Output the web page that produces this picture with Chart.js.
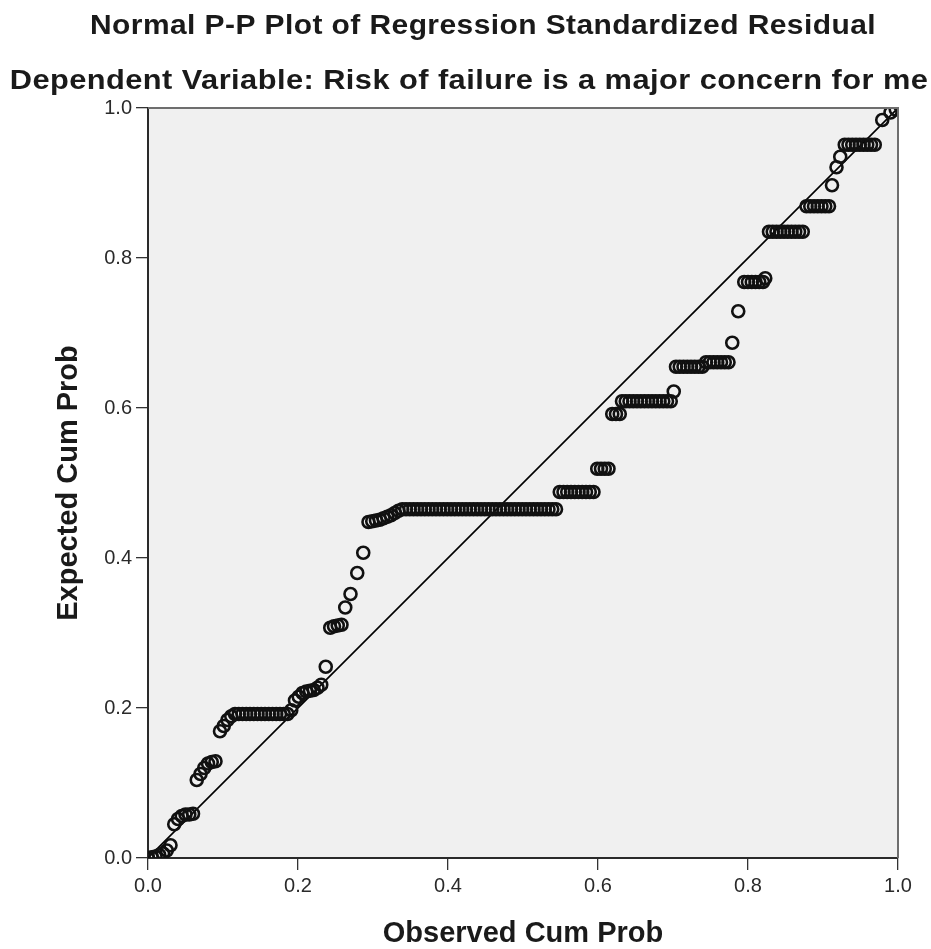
<!DOCTYPE html>
<html>
<head>
<meta charset="utf-8">
<script src="https://cdn.jsdelivr.net/npm/chart.js@4"></script>
<style>
  html, body { margin: 0; padding: 0; background: #ffffff; }
  #wrap { width: 931px; height: 949px; }
</style>
</head>
<body>
<div id="wrap"><canvas id="c" width="931" height="949"></canvas></div>
<script>
// ---- Data ----
const titleLines = [
  "Normal P-P Plot of Regression Standardized Residual",
  "Dependent Variable: Risk of failure is a major concern for me"
];
const xAxisTitle = "Observed Cum Prob";
const yAxisTitle = "Expected Cum Prob";
const tickValues = [0, 0.2, 0.4, 0.6, 0.8, 1.0];

const observedCumProb = [
  0.000, 0.005, 0.010, 0.015, 0.020, 0.025, 0.030,
  0.035, 0.040, 0.045, 0.050, 0.055, 0.060,
  0.065, 0.070, 0.075, 0.080, 0.085, 0.090,
  0.096, 0.101, 0.106, 0.111, 0.116,
  0.121, 0.126, 0.131, 0.136, 0.141, 0.146, 0.151, 0.156, 0.161, 0.166, 0.171, 0.176, 0.181, 0.186,
  0.191, 0.196, 0.201, 0.206, 0.211, 0.216, 0.221, 0.226, 0.231,
  0.237,
  0.243, 0.248, 0.253, 0.258,
  0.263, 0.270, 0.279, 0.287,
  0.294, 0.299, 0.304, 0.309, 0.314, 0.319, 0.324, 0.329, 0.334,
  0.339, 0.344, 0.349, 0.354, 0.359, 0.364, 0.369, 0.374, 0.379, 0.384, 0.389, 0.394, 0.399, 0.404,
  0.409, 0.414, 0.419, 0.424, 0.429, 0.434, 0.439, 0.444, 0.449, 0.454, 0.459, 0.464, 0.469, 0.474,
  0.479, 0.484, 0.489, 0.494, 0.499, 0.504, 0.509, 0.514, 0.519, 0.524, 0.529, 0.534, 0.539, 0.544,
  0.549, 0.554, 0.559, 0.564, 0.569, 0.574, 0.579, 0.584, 0.589, 0.594,
  0.599, 0.604, 0.609, 0.614,
  0.619, 0.624, 0.629,
  0.632, 0.637, 0.642, 0.647, 0.652, 0.657, 0.662, 0.667, 0.672, 0.677, 0.682, 0.687, 0.692, 0.697,
  0.701,
  0.704, 0.709, 0.714, 0.719, 0.724, 0.729, 0.734, 0.739,
  0.744, 0.749, 0.754, 0.759, 0.764, 0.769, 0.774,
  0.779, 0.787,
  0.795, 0.800, 0.805, 0.810, 0.815, 0.820, 0.823,
  0.828, 0.833, 0.838, 0.843, 0.848, 0.853, 0.858, 0.863, 0.868, 0.873,
  0.878, 0.883, 0.888, 0.893, 0.898, 0.903, 0.908,
  0.912, 0.918, 0.923,
  0.929, 0.934, 0.939, 0.944, 0.949, 0.954, 0.959, 0.964, 0.969,
  0.979, 0.990, 0.997
];
const expectedCumProb = [
  0.000, 0.001, 0.002, 0.004, 0.006, 0.010, 0.017,
  0.045, 0.052, 0.056, 0.058, 0.058, 0.059,
  0.104, 0.112, 0.120, 0.126, 0.128, 0.129,
  0.169, 0.176, 0.184, 0.189, 0.192,
  0.192, 0.192, 0.192, 0.192, 0.192, 0.192, 0.192, 0.192, 0.192, 0.192, 0.192, 0.192, 0.192, 0.192,
  0.197, 0.210, 0.215, 0.220, 0.222, 0.223, 0.224, 0.227, 0.231,
  0.255,
  0.307, 0.309, 0.310, 0.311,
  0.334, 0.352, 0.380, 0.407,
  0.448, 0.449, 0.450, 0.451, 0.453, 0.455, 0.457, 0.460, 0.463,
  0.465, 0.465, 0.465, 0.465, 0.465, 0.465, 0.465, 0.465, 0.465, 0.465, 0.465, 0.465, 0.465, 0.465,
  0.465, 0.465, 0.465, 0.465, 0.465, 0.465, 0.465, 0.465, 0.465, 0.465, 0.465, 0.465, 0.465, 0.465,
  0.465, 0.465, 0.465, 0.465, 0.465, 0.465, 0.465, 0.465, 0.465, 0.465, 0.465, 0.465, 0.465, 0.465,
  0.488, 0.488, 0.488, 0.488, 0.488, 0.488, 0.488, 0.488, 0.488, 0.488,
  0.519, 0.519, 0.519, 0.519,
  0.592, 0.592, 0.592,
  0.609, 0.609, 0.609, 0.609, 0.609, 0.609, 0.609, 0.609, 0.609, 0.609, 0.609, 0.609, 0.609, 0.609,
  0.622,
  0.655, 0.655, 0.655, 0.655, 0.655, 0.655, 0.655, 0.655,
  0.661, 0.661, 0.661, 0.661, 0.661, 0.661, 0.661,
  0.687, 0.729,
  0.768, 0.768, 0.768, 0.768, 0.768, 0.768, 0.773,
  0.835, 0.835, 0.835, 0.835, 0.835, 0.835, 0.835, 0.835, 0.835, 0.835,
  0.869, 0.869, 0.869, 0.869, 0.869, 0.869, 0.869,
  0.897, 0.921, 0.935,
  0.951, 0.951, 0.951, 0.951, 0.951, 0.951, 0.951, 0.951, 0.951,
  0.984, 0.994, 0.998
];
const referenceLineX = [0, 1];
const referenceLineY = [0, 1];

// ---- Build datasets from the arrays ----
const points = observedCumProb.map((x, i) => ({ x: x, y: expectedCumProb[i] }));
const refLine = referenceLineX.map((x, i) => ({ x: x, y: referenceLineY[i] }));

const FONT = "'Liberation Sans', Arial, sans-serif";

function wideText(ctx, text, cx, cy, sx) {
  ctx.save();
  ctx.translate(cx, cy);
  ctx.scale(sx, 1);
  ctx.fillText(text, 0, 0);
  ctx.restore();
}

const plotFrame = {
  id: 'plotFrame',
  beforeDraw(chart) {
    const { ctx, chartArea: a } = chart;
    ctx.save();
    ctx.fillStyle = '#ffffff';
    ctx.fillRect(0, 0, chart.width, chart.height);
    ctx.fillStyle = '#f0f0f0';
    ctx.fillRect(a.left, a.top, a.right - a.left, a.bottom - a.top);
    ctx.restore();
  },
  afterDraw(chart) {
    const { ctx, chartArea: a } = chart;
    ctx.save();
    ctx.strokeStyle = '#6e6e6e';
    ctx.lineWidth = 2;
    ctx.beginPath();
    ctx.moveTo(a.left, a.top);
    ctx.lineTo(a.right, a.top);
    ctx.lineTo(a.right, a.bottom);
    ctx.stroke();
    // titles
    ctx.fillStyle = '#1a1a1a';
    ctx.font = "bold 28px " + FONT;
    ctx.letterSpacing = '0.4px';
    ctx.textAlign = 'center';
    ctx.textBaseline = 'middle';
    wideText(ctx, titleLines[0], 483, 26, 1.07);
    wideText(ctx, titleLines[1], 469, 81, 1.1);
    ctx.restore();
  }
};

new Chart(document.getElementById('c'), {
  type: 'scatter',
  data: {
    datasets: [
      {
        type: 'line',
        data: refLine,
        borderColor: '#000000',
        borderWidth: 1.6,
        pointRadius: 0,
        fill: false,
        order: 2
      },
      {
        data: points,
        pointStyle: 'circle',
        pointRadius: 6,
        pointBorderWidth: 2.6,
        borderColor: '#111111',
        backgroundColor: 'rgba(0,0,0,0)',
        pointBackgroundColor: 'rgba(0,0,0,0)',
        order: 1
      }
    ]
  },
  options: {
    responsive: false,
    animation: false,
    devicePixelRatio: 1,
    layout: { padding: { top: 108, right: 33, bottom: 0, left: 0 } },
    plugins: {
      legend: { display: false },
      tooltip: { enabled: false },
      title: { display: false }
    },
    scales: {
      x: {
        type: 'linear',
        min: 0, max: 1,
        afterBuildTicks: (s) => { s.ticks = tickValues.map(v => ({ value: v })); },
        afterFit: (s) => { s.height = 91; },
        ticks: {
          color: '#2a2a2a',
          font: { family: FONT, size: 20 },
          padding: 4,
          maxRotation: 0,
          callback: (v) => Number(v).toFixed(1)
        },
        grid: { drawOnChartArea: false, drawTicks: true, tickLength: 12, color: '#333333', lineWidth: 1.3 },
        border: { display: true, color: '#2a2a2a', width: 2 },
        title: {
          display: true,
          text: xAxisTitle,
          color: '#1a1a1a',
          font: { family: FONT, size: 29, weight: 'bold', lineHeight: 1 },
          padding: { top: 0, bottom: 1 }
        }
      },
      y: {
        type: 'linear',
        min: 0, max: 1,
        afterBuildTicks: (s) => { s.ticks = tickValues.map(v => ({ value: v })); },
        afterFit: (s) => { s.width = 148; },
        ticks: {
          color: '#2a2a2a',
          font: { family: FONT, size: 20 },
          padding: 4,
          callback: (v) => Number(v).toFixed(1)
        },
        grid: { drawOnChartArea: false, drawTicks: true, tickLength: 12, color: '#333333', lineWidth: 1.3 },
        border: { display: true, color: '#2a2a2a', width: 2 },
        title: {
          display: true,
          text: yAxisTitle,
          color: '#1a1a1a',
          font: { family: FONT, size: 29, weight: 'bold', lineHeight: 1 },
          padding: { top: 54, bottom: 0 }
        }
      }
    }
  },
  plugins: [plotFrame]
});
</script>
</body>
</html>
